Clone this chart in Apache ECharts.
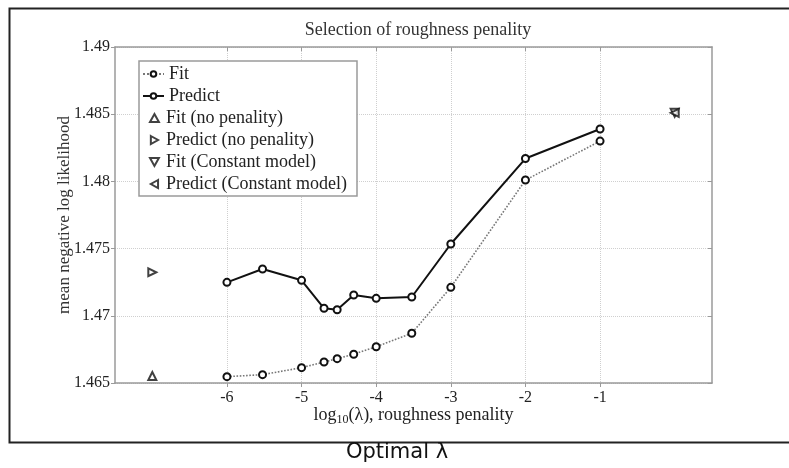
<!DOCTYPE html>
<html>
<head>
<meta charset="utf-8">
<script src="https://cdn.jsdelivr.net/npm/echarts@6/dist/echarts.min.js"></script>
<style>
html,body{margin:0;padding:0;background:#fff;}
#chart{width:789px;height:468px;}
</style>
</head>
<body>
<div id="chart"></div>
<script>
// ---- data ----
var lambdaLog = [-6, -5.523, -5, -4.699, -4.523, -4.301, -4, -3.523, -3, -2, -1];
var fitValues = [1.46547, 1.46562, 1.46614, 1.46656, 1.46681, 1.46714, 1.4677, 1.4687, 1.47212, 1.4801, 1.4830];
var predictValues = [1.47249, 1.47348, 1.47264, 1.47056, 1.47045, 1.47155, 1.4713, 1.4714, 1.47534, 1.4817, 1.4839];
var noPenaltyX = -7;
var fitNoPenalty = 1.46552;
var predictNoPenalty = 1.47324;
var constantX = 0;
var fitConstant = 1.4851;
var predictConstant = 1.4851;
var xTickValues = [-6, -5, -4, -3, -2, -1];
var seriesNames = ['Fit', 'Predict', 'Fit (no penality)', 'Predict (no penality)', 'Fit (Constant model)', 'Predict (Constant model)'];
var titleText = 'Selection of roughness penality';
var yAxisTitle = 'mean negative log likelihood';
var captionText = 'Optimal \u03bb';

function pairs(xs, ys) { return xs.map(function (x, i) { return [x, ys[i]]; }); }

var serif = 'Liberation Serif';
var txt = '#222';
var axisGray = '#9a9a9a';
var gridGray = '#cfcfcf';

var chart = echarts.init(document.getElementById('chart'), null, {renderer: 'canvas'});
var markerStyle = {color: '#111', borderWidth: 2};
var rotations = [0, 0, 0, -90, 180, 90];
var triPaths = [
  'path://M5,0 L10,9 L0,9 Z',
  'path://M0,0 L9,5 L0,10 Z',
  'path://M0,0 L10,0 L5,9 Z',
  'path://M9,0 L0,5 L9,10 Z'
];
var legendText = {fontFamily: serif, fontSize: 18, color: txt, lineHeight: 18};

chart.setOption({
  animation: false,
  backgroundColor: '#fff',
  title: {
    text: titleText, left: 413, textAlign: 'center', top: 16,
    textStyle: {fontFamily: serif, fontSize: 18, fontWeight: 'normal', color: '#333'}
  },
  grid: {left: 115, right: 77, top: 47, bottom: 85},
  legend: [{
    orient: 'vertical', left: 142, top: 65, z: 6,
    data: seriesNames.slice(0, 2),
    padding: 0, itemGap: 4, itemWidth: 21, itemHeight: 7,
    textStyle: legendText
  }, {
    orient: 'vertical', left: 149, top: 109, z: 6,
    data: seriesNames.slice(2).map(function (n, i) {
      return {name: n, icon: triPaths[i], itemStyle: {color: '#fff', borderColor: '#111', borderWidth: 2}};
    }),
    padding: 0, itemGap: 4, itemWidth: 13, itemHeight: 8, symbolKeepAspect: true,
    textStyle: legendText
  }],
  xAxis: [{
    type: 'value', min: -7.5, max: 0.5,
    axisLine: {onZero: false, lineStyle: {color: axisGray, width: 1.5}},
    axisTick: {show: true, length: 4, customValues: xTickValues, lineStyle: {color: axisGray}},
    axisLabel: {customValues: xTickValues, fontFamily: serif, fontSize: 16, color: txt, margin: 7,
      formatter: function (v) { return String(v); }},
    splitLine: {show: true, lineStyle: {color: gridGray, type: 'dotted', width: 1}},
    name: 'log{sub|10}(\u03bb), roughness penality',
    nameLocation: 'middle', nameGap: 21, nameMoveOverlap: false,
    nameTextStyle: {fontFamily: serif, fontSize: 18, color: txt,
      rich: {sub: {fontFamily: serif, fontSize: 12, color: txt, verticalAlign: 'bottom', padding: [10, 0, 0, 0]}}}
  }, {
    type: 'value', min: -7.5, max: 0.5, position: 'top',
    axisLine: {onZero: false, lineStyle: {color: axisGray, width: 1.5}},
    axisTick: {show: true, inside: true, length: 4, customValues: xTickValues, lineStyle: {color: axisGray}},
    axisLabel: {show: false, customValues: xTickValues},
    splitLine: {show: false}
  }],
  yAxis: [{
    type: 'value', min: 1.465, max: 1.49, interval: 0.005,
    axisLine: {show: true, onZero: false, lineStyle: {color: axisGray, width: 1.5}},
    axisTick: {show: true, length: 4, lineStyle: {color: axisGray}},
    axisLabel: {fontFamily: serif, fontSize: 16, color: txt, margin: 5},
    splitLine: {show: true, lineStyle: {color: gridGray, type: 'dotted', width: 1}},
    name: yAxisTitle, nameLocation: 'middle', nameGap: 42, nameMoveOverlap: false,
    nameTextStyle: {fontFamily: serif, fontSize: 17, color: '#333'}
  }, {
    type: 'value', min: 1.465, max: 1.49, interval: 0.005, position: 'right',
    axisLine: {show: true, onZero: false, lineStyle: {color: axisGray, width: 1.5}},
    axisTick: {show: true, inside: true, length: 4, lineStyle: {color: axisGray}},
    axisLabel: {show: false},
    splitLine: {show: false}
  }],
  series: [{
    name: seriesNames[0], type: 'line', data: pairs(lambdaLog, fitValues),
    symbol: 'emptyCircle', symbolSize: 7,
    lineStyle: {color: '#777', width: 1.6, type: 'dotted'},
    itemStyle: markerStyle, z: 3
  }, {
    name: seriesNames[1], type: 'line', data: pairs(lambdaLog, predictValues),
    symbol: 'emptyCircle', symbolSize: 7,
    lineStyle: {color: '#111', width: 2},
    itemStyle: markerStyle, z: 4
  }, {
    name: seriesNames[2], type: 'scatter', data: [[noPenaltyX, fitNoPenalty]],
    symbol: 'emptyTriangle', symbolSize: 8, symbolKeepAspect: true, itemStyle: markerStyle
  }, {
    name: seriesNames[3], type: 'scatter', data: [[noPenaltyX, predictNoPenalty]],
    symbol: 'emptyTriangle', symbolSize: 8, symbolKeepAspect: true, symbolRotate: rotations[3], itemStyle: markerStyle
  }, {
    name: seriesNames[4], type: 'scatter', data: [[constantX, fitConstant]],
    symbol: 'emptyTriangle', symbolSize: 8, symbolKeepAspect: true, symbolRotate: rotations[4], itemStyle: markerStyle
  }, {
    name: seriesNames[5], type: 'scatter', data: [[constantX, predictConstant]],
    symbol: 'emptyTriangle', symbolSize: 8, symbolKeepAspect: true, symbolRotate: rotations[5], itemStyle: markerStyle
  }],
  graphic: [{
    type: 'rect', left: 7, top: 6, z: -10, silent: true,
    shape: {width: 800, height: 434},
    style: {fill: 'none', stroke: '#222', lineWidth: 2}
  }, {
    type: 'rect', x: 139, y: 61, z: 5, silent: true,
    shape: {width: 218, height: 135},
    style: {fill: '#fff', stroke: axisGray, lineWidth: 1.5}
  }, {
    type: 'text', x: 397, y: 453, z: 10,
    style: {text: captionText, fontFamily: 'DejaVu Sans', fontSize: 21, fill: '#111',
      textAlign: 'center', textVerticalAlign: 'middle'}
  }]
});
</script>
</body>
</html>
